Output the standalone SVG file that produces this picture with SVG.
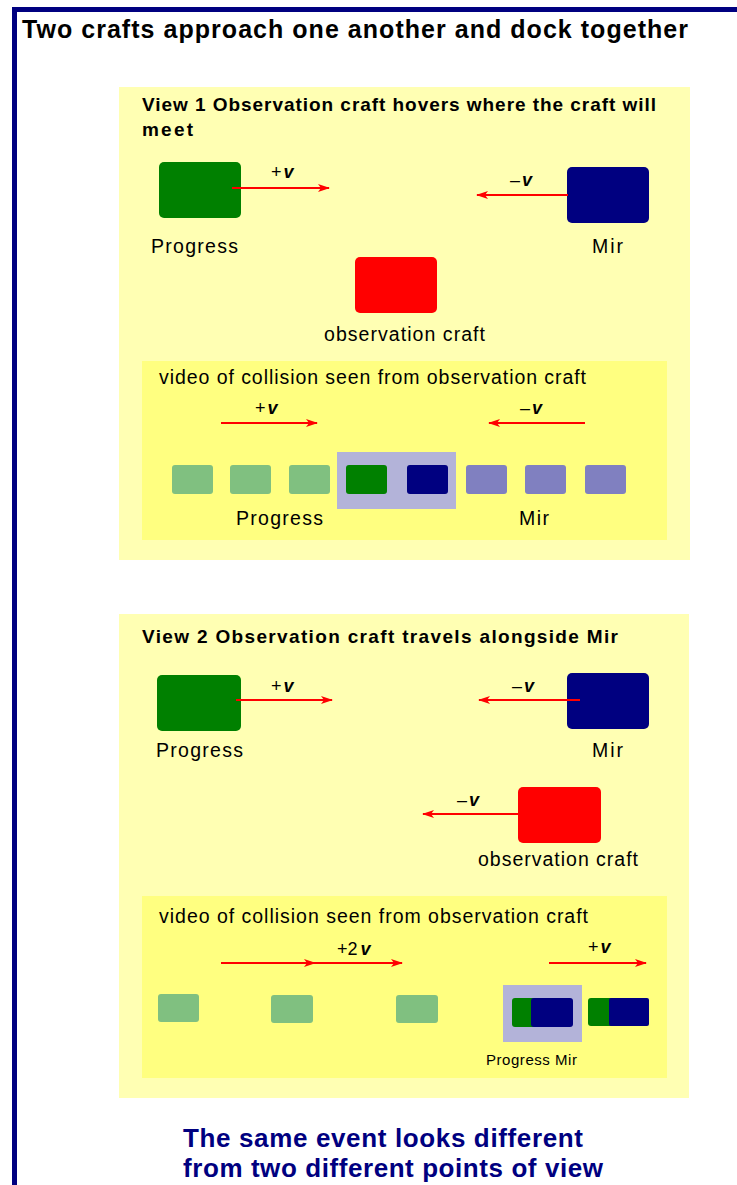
<svg xmlns="http://www.w3.org/2000/svg" width="737" height="1185" viewBox="0 0 737 1185">
  <style>
    text { font-family: "Liberation Sans", Arial, sans-serif; fill: #000; }
    .title { font-size: 25px; font-weight: bold; }
    .head { font-size: 19px; font-weight: bold; }
    .lbl { font-size: 19.5px; }
    .small { font-size: 15px; }
    .vel { font-size: 18px; }
    .v { font-weight: bold; font-style: italic; }
    .panel { fill: #FFFFB3; }
    .inner { fill: #FFFF80; }
    .hl { fill: #B3B3D9; }
    .prog { fill: #008000; }
    .mir { fill: #000080; }
    .obs { fill: #FF0000; }
    .progf { fill: #80C080; }
    .mirf { fill: #8080C0; }
    .arrow { stroke: #FF0000; stroke-width: 2; fill: none; marker-end: url(#ah); }
    .foot { font-size: 26px; font-weight: bold; fill: #000080; }
  </style>
  <defs>
    <marker id="ah" viewBox="0 0 12 8" refX="11" refY="4" markerWidth="6" markerHeight="4" orient="auto" markerUnits="strokeWidth">
      <path d="M0,0 L12,4 L0,8 L3,4 z" fill="#FF0000"/>
    </marker>
  </defs>

  <rect width="737" height="1185" fill="#FFFFFF"/>

  <!-- frame -->
  <g id="frame">
    <rect x="12" y="7" width="725" height="5" fill="#000080"/>
    <rect x="12" y="7" width="5" height="1178" fill="#000080"/>
  </g>

  <text id="title" class="title" x="22" y="38" textLength="666">Two crafts approach one another and dock together</text>

  <!-- View 1 -->
  <g id="view1">
    <rect class="panel" x="119" y="87" width="571" height="473"/>
    <text class="head" x="142" y="111" textLength="514">View 1 Observation craft hovers where the craft will</text>
    <text class="head" x="142" y="136" textLength="51">meet</text>
  </g>
  <g id="v1-progress">
    <rect class="prog" x="159" y="162" width="82" height="56" rx="5"/>
    <text class="lbl" x="151" y="253" textLength="87">Progress</text>
  </g>
  <g id="v1-mir">
    <rect class="mir" x="567" y="167" width="82" height="56" rx="5"/>
    <text class="lbl" x="592" y="253" textLength="31">Mir</text>
  </g>
  <g id="v1-obs">
    <rect class="obs" x="355" y="257" width="82" height="56" rx="5"/>
    <text class="lbl" x="324" y="341" textLength="161">observation craft</text>
  </g>
  <g id="v1-video">
    <rect class="inner" x="142" y="361" width="525" height="179"/>
    <text class="lbl" x="159" y="384" textLength="427">video of collision seen from observation craft</text>
    <rect class="hl" x="337" y="452" width="119" height="57"/>
    <rect class="progf" x="172" y="465" width="41" height="29" rx="3"/>
    <rect class="progf" x="230" y="465" width="41" height="29" rx="3"/>
    <rect class="progf" x="289" y="465" width="41" height="29" rx="3"/>
    <rect class="prog" x="346" y="465" width="41" height="29" rx="3"/>
    <rect class="mir" x="407" y="465" width="41" height="29" rx="3"/>
    <rect class="mirf" x="466" y="465" width="41" height="29" rx="3"/>
    <rect class="mirf" x="525" y="465" width="41" height="29" rx="3"/>
    <rect class="mirf" x="585" y="465" width="41" height="29" rx="3"/>
    <text class="lbl" x="236" y="525" textLength="87">Progress</text>
    <text class="lbl" x="519" y="525" textLength="30">Mir</text>
  </g>

  <!-- View 2 -->
  <g id="view2">
    <rect class="panel" x="119" y="614" width="570" height="484"/>
    <text class="head" x="142" y="643" textLength="476">View 2 Observation craft travels alongside Mir</text>
  </g>
  <g id="v2-progress">
    <rect class="prog" x="157" y="675" width="84" height="56" rx="5"/>
    <text class="lbl" x="156" y="757" textLength="87">Progress</text>
  </g>
  <g id="v2-mir">
    <rect class="mir" x="567" y="673" width="82" height="56" rx="5"/>
    <text class="lbl" x="592" y="757" textLength="31">Mir</text>
  </g>
  <g id="v2-obs">
    <rect class="obs" x="518" y="787" width="83" height="56" rx="5"/>
    <text class="lbl" x="478" y="866" textLength="160">observation craft</text>
  </g>
  <g id="v2-video">
    <rect class="inner" x="142" y="896" width="525" height="182"/>
    <text class="lbl" x="159" y="923" textLength="429">video of collision seen from observation craft</text>
    <rect class="progf" x="158" y="994" width="41" height="28" rx="3"/>
    <rect class="progf" x="271" y="995" width="42" height="28" rx="3"/>
    <rect class="progf" x="396" y="995" width="42" height="28" rx="3"/>
    <rect class="hl" x="503" y="985" width="79" height="57"/>
    <rect class="prog" x="512" y="998" width="40" height="29" rx="3"/>
    <rect class="mir" x="531" y="998" width="42" height="29" rx="3"/>
    <rect class="prog" x="588" y="998" width="40" height="28" rx="3"/>
    <rect class="mir" x="609" y="998" width="40" height="28" rx="2"/>
    <text class="small" x="486" y="1065" textLength="91">Progress Mir</text>
  </g>

  <!-- connectors -->
  <g id="connectors">
    <line class="arrow" x1="232" y1="188" x2="329" y2="188"/>
    <line class="arrow" x1="568" y1="195" x2="477" y2="195"/>
    <line class="arrow" x1="221" y1="423" x2="317" y2="423"/>
    <line class="arrow" x1="585" y1="423" x2="489" y2="423"/>
    <line class="arrow" x1="236" y1="700" x2="332" y2="700"/>
    <line class="arrow" x1="580" y1="700" x2="479" y2="700"/>
    <line class="arrow" x1="523" y1="814" x2="423" y2="814"/>
    <line class="arrow" x1="221" y1="963" x2="315" y2="963"/>
    <line class="arrow" x1="305" y1="963" x2="402" y2="963"/>
    <line class="arrow" x1="549" y1="963" x2="646" y2="963"/>
  </g>

  <!-- velocity labels -->
  <g id="labels">
    <text class="vel" x="271" y="178">+<tspan class="v" dx="2">v</tspan></text>
    <text class="vel" x="510" y="186">–<tspan class="v" dx="2">v</tspan></text>
    <text class="vel" x="255" y="414">+<tspan class="v" dx="2">v</tspan></text>
    <text class="vel" x="520" y="414">–<tspan class="v" dx="2">v</tspan></text>
    <text class="vel" x="271" y="692">+<tspan class="v" dx="2">v</tspan></text>
    <text class="vel" x="512" y="692">–<tspan class="v" dx="2">v</tspan></text>
    <text class="vel" x="457" y="806">–<tspan class="v" dx="2">v</tspan></text>
    <text class="vel" x="337" y="955">+2<tspan class="v" dx="3">v</tspan></text>
    <text class="vel" x="588" y="953">+<tspan class="v" dx="2">v</tspan></text>
  </g>

  <g id="footer">
    <text class="foot" x="183" y="1147" textLength="400">The same event looks different</text>
    <text class="foot" x="183" y="1177" textLength="420">from two different points of view</text>
  </g>
</svg>
